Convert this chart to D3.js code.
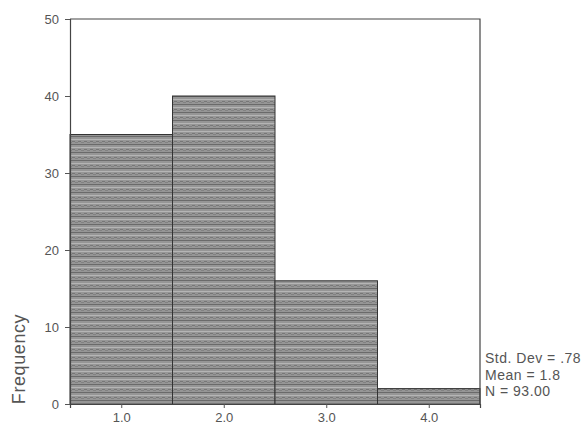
<!DOCTYPE html>
<html><head><meta charset="utf-8">
<script src="https://cdn.jsdelivr.net/npm/d3@7"></script>
<style>body{margin:0;background:#fff}svg{display:block}text{font-family:"Liberation Sans",Arial,sans-serif}</style>
</head><body>
<script>
const binCenters = [1, 2, 3, 4];
const frequencies = [35, 40, 16, 2];
const yTicks = [0, 10, 20, 30, 40, 50];
const xTickLabels = ["1.0", "2.0", "3.0", "4.0"];
const statsLines = ["Std. Dev = .78", "Mean = 1.8", "N = 93.00"];

const W = 586, H = 428;
const svg = d3.select("body").append("svg").attr("width", W).attr("height", H);
const defs = svg.append("defs");
const pat = defs.append("pattern").attr("id", "tex").attr("patternUnits", "userSpaceOnUse")
  .attr("width", 6).attr("height", 8);
pat.append("rect").attr("width", 6).attr("height", 8).attr("fill", "#969696");
pat.append("rect").attr("y", 0).attr("width", 6).attr("height", 1).attr("fill", "#6a6a6a");
pat.append("rect").attr("y", 3).attr("width", 6).attr("height", 1).attr("fill", "#b5b5b5");
pat.append("rect").attr("y", 5).attr("width", 3).attr("height", 1).attr("fill", "#777");
pat.append("rect").attr("x", 3).attr("y", 6).attr("width", 3).attr("height", 1).attr("fill", "#828282");

const mLeft = 70, mRight = 480, mTop = 19, mBottom = 404;
const x = d3.scaleLinear().domain([0.5, 4.5]).range([mLeft, mRight]);
const y = d3.scaleLinear().domain([0, 50]).range([mBottom, mTop]);

svg.append("g").selectAll("rect").data(binCenters).join("rect")
  .attr("x", d => x(d - 0.5))
  .attr("width", d => x(d + 0.5) - x(d - 0.5))
  .attr("y", (d, i) => y(frequencies[i]))
  .attr("height", (d, i) => y(0) - y(frequencies[i]))
  .attr("fill", "url(#tex)")
  .attr("stroke", "#333").attr("stroke-width", 1);

// frame top & right
svg.append("path").attr("d", `M${mLeft},${mTop}H${mRight}V${mBottom}`)
  .attr("fill", "none").attr("stroke", "#444").attr("stroke-width", 1.2);

const yAxis = d3.axisLeft(y).tickValues(yTicks).tickSize(5).tickPadding(6);
const gy = svg.append("g").attr("transform", `translate(${mLeft},0)`).call(yAxis);
const xAxis = d3.axisBottom(x).tickValues(binCenters).tickFormat((d, i) => xTickLabels[i]).tickSize(4).tickPadding(5);
const gx = svg.append("g").attr("transform", `translate(0,${mBottom})`).call(xAxis);
[gx, gy].forEach(g => {
  g.select(".domain").attr("stroke", "#444").attr("stroke-width", 1.2);
  g.selectAll(".tick line").attr("stroke", "#555");
  g.selectAll("text").attr("fill", "#555").style("font-size", "13px");
});

svg.append("text").attr("transform", "translate(25,359) rotate(-90)")
  .attr("text-anchor", "middle").attr("fill", "#555").style("font-size", "18px")
  .style("letter-spacing", "0.6px").text("Frequency");

svg.append("g").selectAll("text").data(statsLines).join("text")
  .attr("x", 485).attr("y", (d, i) => 363 + i * 16.5)
  .attr("fill", "#555").style("font-size", "14px").style("letter-spacing", "0.5px").text(d => d);
</script>
</body></html>
